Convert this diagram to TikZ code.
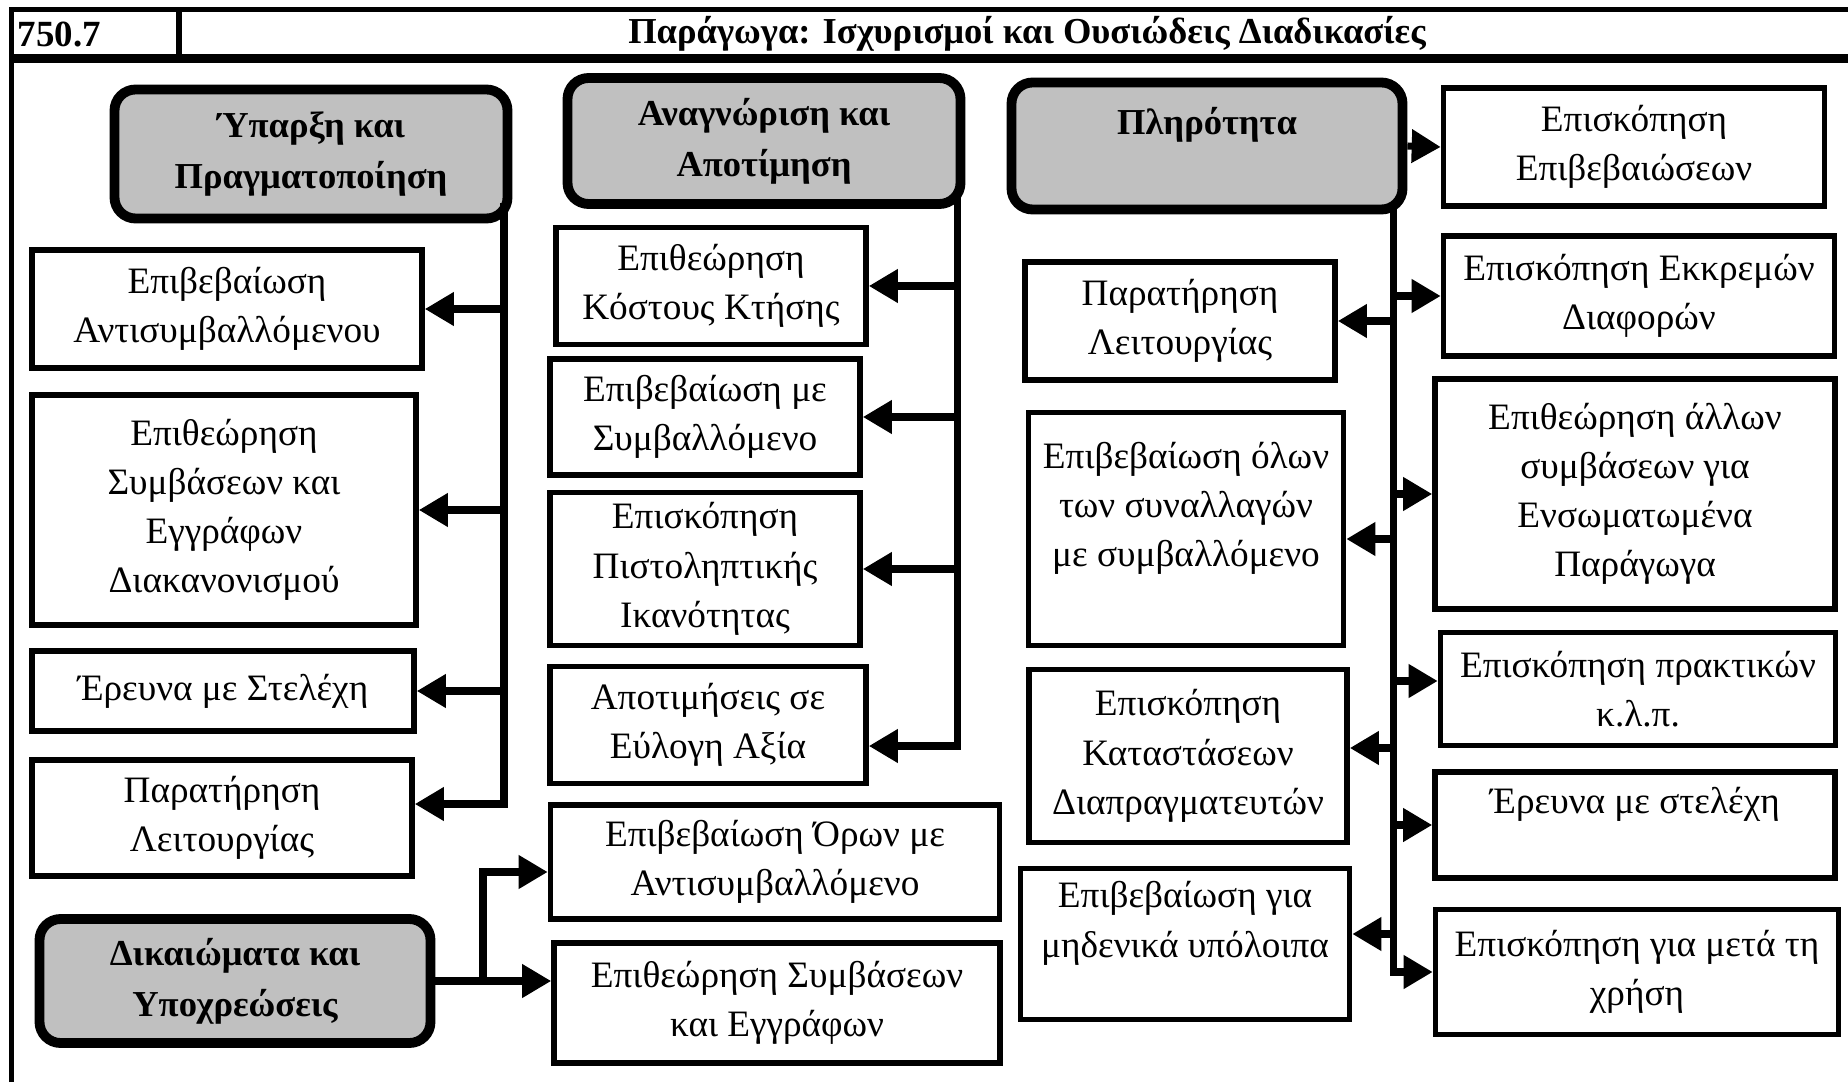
\documentclass[tikz,border=0pt]{standalone}
\usepackage{fontspec}
\setmainfont{Liberation Serif}
\usepackage{xcolor}
\usepackage{tikz}
\usetikzlibrary{arrows.meta}
\definecolor{hdrgray}{RGB}{192,192,192}

\begin{document}
\begin{tikzpicture}[
    box/.style={draw, line width=1.6pt, inner sep=2pt, align=center, font=\fontsize{10.6}{14}\selectfont},
    head/.style={draw, line width=2.8pt, rounded corners=6pt, fill=hdrgray, inner sep=2pt, align=center, font=\fontsize{10.4}{14.5}\selectfont\bfseries},
    conn/.style={line width=2pt},
    arr/.style={line width=2pt, -{Triangle[length=0.29cm, width=0.32cm]}}
]
\useasboundingbox (0,0) rectangle (18.48,10.82);
% frame and header row
\draw[line width=1.5pt] (0.118,0) -- (0.118,10.726) -- (18.48,10.726);
\draw[line width=2.5pt] (0.118,10.231) -- (18.48,10.231);
\draw[line width=1.5pt] (1.791,10.231) -- (1.791,10.726);
\node[anchor=west, inner sep=0pt, font=\fontsize{10.5}{13}\selectfont\bfseries] (num) at (0.17,10.48) {750.7};
\node[font=\fontsize{10.4}{13}\selectfont\bfseries] (title) at (10.27,10.48) {Παράγωγα: Ισχυρισμοί και Ουσιώδεις Διαδικασίες};

% existence and occurrence
\node[head, minimum width=3.93cm, minimum height=1.29cm] (exist) at (3.11,9.28) {Ύπαρξη και\\Πραγματοποίηση};
\node[box, minimum width=3.90cm, minimum height=1.18cm] (cparty) at (2.27,7.73) {Επιβεβαίωση\\Αντισυμβαλλόμενου};
\node[box, minimum width=3.84cm, minimum height=2.30cm] (contracts) at (2.24,5.72) {Επιθεώρηση\\Συμβάσεων και\\Εγγράφων\\Διακανονισμού};
\node[box, minimum width=3.82cm, minimum height=0.80cm] (inquiry) at (2.23,3.91) {Έρευνα με Στελέχη};
\node[box, minimum width=3.80cm, minimum height=1.16cm] (observe) at (2.22,2.64) {Παρατήρηση\\Λειτουργίας};
\node[head, minimum width=3.91cm, minimum height=1.24cm] (rights) at (2.35,1.01) {Δικαιώματα και\\Υποχρεώσεις};

% recognition and measurement
\node[head, minimum width=3.93cm, minimum height=1.26cm] (recog) at (7.64,9.41) {Αναγνώριση και\\Αποτίμηση};
\node[box, minimum width=3.10cm, minimum height=1.17cm] (cost) at (7.11,7.96) {Επιθεώρηση\\Κόστους Κτήσης};
\node[box, minimum width=3.10cm, minimum height=1.16cm] (confirm) at (7.05,6.65) {Επιβεβαίωση με\\Συμβαλλόμενο};
\node[box, minimum width=3.10cm, minimum height=1.53cm] (credit) at (7.05,5.13) {Επισκόπηση\\Πιστοληπτικής\\Ικανότητας};
\node[box, minimum width=3.16cm, minimum height=1.17cm] (fairval) at (7.08,3.57) {Αποτιμήσεις σε\\Εύλογη Αξία};
\node[box, minimum width=4.49cm, minimum height=1.14cm] (terms) at (7.75,2.20) {Επιβεβαίωση Όρων με\\Αντισυμβαλλόμενο};
\node[box, minimum width=4.46cm, minimum height=1.20cm] (docs) at (7.77,0.79) {Επιθεώρηση Συμβάσεων\\και Εγγράφων};

% completeness
\node[head, minimum width=3.91cm, minimum height=1.27cm] (complete) at (12.07,9.36) {Πληρότητα\\\mbox{}};
\node[box, minimum width=3.81cm, minimum height=1.18cm] (confrev) at (16.34,9.35) {Επισκόπηση\\Επιβεβαιώσεων};
\node[box, minimum width=3.10cm, minimum height=1.18cm] (observe2) at (11.80,7.61) {Παρατήρηση\\Λειτουργίας};
\node[box, minimum width=3.15cm, minimum height=2.33cm] (alltrans) at (11.86,5.53) {Επιβεβαίωση όλων\\των συναλλαγών\\με συμβαλλόμενο\\\mbox{}};
\node[box, minimum width=3.18cm, minimum height=1.73cm] (dealer) at (11.88,3.26) {Επισκόπηση\\Καταστάσεων\\Διαπραγματευτών};
\node[box, minimum width=3.29cm, minimum height=1.51cm] (zerobal) at (11.85,1.38) {Επιβεβαίωση για\\μηδενικά υπόλοιπα\\\mbox{}};
\node[box, minimum width=3.91cm, minimum height=1.20cm] (recon) at (16.39,7.86) {Επισκόπηση Εκκρεμών\\Διαφορών};
\node[box, minimum width=4.00cm, minimum height=2.30cm] (embedded) at (16.35,5.88) {Επιθεώρηση άλλων\\συμβάσεων για\\Ενσωματωμένα\\Παράγωγα};
\node[box, minimum width=3.95cm, minimum height=1.13cm] (minutes) at (16.38,3.93) {Επισκόπηση πρακτικών\\κ.λ.π.};
\node[box, minimum width=4.00cm, minimum height=1.06cm] (inquiry2) at (16.35,2.57) {Έρευνα με στελέχη\\\mbox{}};
\node[box, minimum width=4.03cm, minimum height=1.25cm] (subseq) at (16.37,1.10) {Επισκόπηση για μετά τη\\χρήση};

% trunks
\coordinate (t1) at (5.04,0);
\coordinate (t2) at (9.57,0);
\coordinate (t3) at (13.93,0);
\coordinate (t4) at (4.83,0);

\draw[arr] ([yshift=0.2cm]exist.south -| t1) |- ([yshift=0.14cm]observe.east);
\draw[arr] (t1 |- cparty.east) -- (cparty.east);
\draw[arr] (t1 |- contracts.east) -- (contracts.east);
\draw[arr] (t1 |- inquiry.east) -- (inquiry.east);

\draw[arr] ([yshift=0.2cm]recog.south -| t2) |- ([yshift=-0.21cm]fairval.east);
\draw[arr] (t2 |- cost.east) -- (cost.east);
\draw[arr] (t2 |- confirm.east) -- (confirm.east);
\draw[arr] (t2 |- credit.east) -- (credit.east);

\draw[arr] (rights.east) -- (rights.east -| docs.west);
\draw[arr] (rights.east -| t4) |- ([yshift=-0.1cm]terms.west);

\draw[arr] (complete.east) -- (confrev.west);
\draw[arr] ([yshift=0.05cm]complete.south -| t3) |- (subseq.west);
\draw[arr] (t3 |- observe2.east) -- (observe2.east);
\draw[arr] ([yshift=-0.1cm]alltrans.east -| t3) -- ([yshift=-0.1cm]alltrans.east);
\draw[arr] ([yshift=0.08cm]dealer.east -| t3) -- ([yshift=0.08cm]dealer.east);
\draw[arr] ([yshift=0.1cm]zerobal.east -| t3) -- ([yshift=0.1cm]zerobal.east);
\draw[arr] (t3 |- recon.west) -- (recon.west);
\draw[arr] (t3 |- embedded.west) -- (embedded.west);
\draw[arr] ([yshift=0.08cm]minutes.west -| t3) -- ([yshift=0.08cm]minutes.west);
\draw[arr] (t3 |- inquiry2.west) -- (inquiry2.west);
\end{tikzpicture}
\end{document}
